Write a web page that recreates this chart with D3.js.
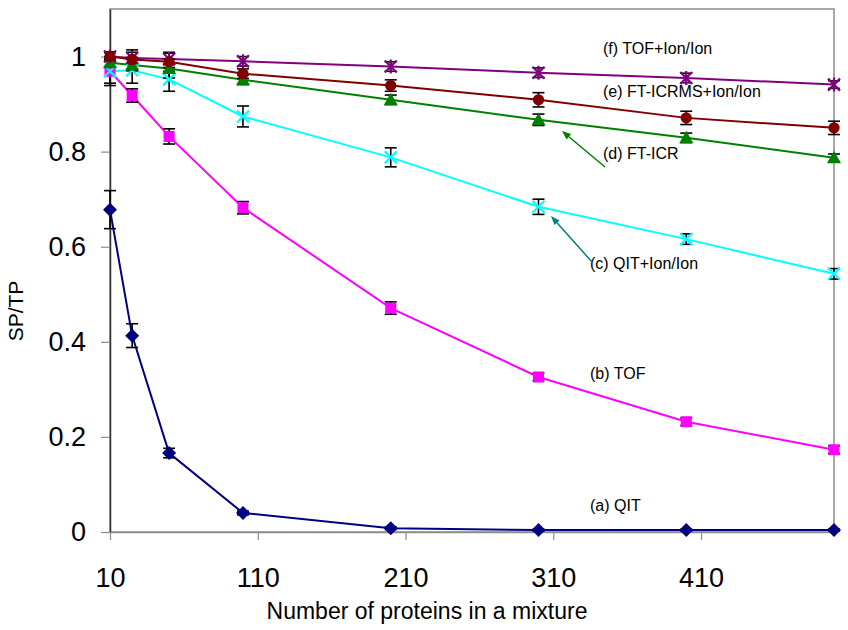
<!DOCTYPE html>
<html>
<head>
<meta charset="utf-8">
<script src="https://cdn.jsdelivr.net/npm/d3@7"></script>
<style>
  body { margin: 0; background: #fff; }
  svg { display: block; font-family: "Liberation Sans", Arial, sans-serif; }
</style>
</head>
<body>
<svg id="chart" width="848" height="630"></svg>
<script>
// number of proteins in the mixture
const proteinCounts = [10, 25, 50, 100, 200, 300, 400, 500];

// SP/TP per instrument
const qit = [0.678, 0.413, 0.166, 0.04, 0.008, 0.004, 0.004, 0.004];
const qitErr = [0.04, 0.025, 0.01, 0.004, 0.003, 0.002, 0.002, 0.002];
const tof = [0.969, 0.918, 0.832, 0.682, 0.471, 0.326, 0.232, 0.173];
const tofErr = [0.03, 0.014, 0.016, 0.013, 0.013, 0.008, 0.008, 0.008];
const qitIon = [0.969, 0.971, 0.952, 0.874, 0.788, 0.684, 0.616, 0.543];
const qitIonErr = [0.025, 0.027, 0.025, 0.022, 0.02, 0.016, 0.011, 0.011];
const ftIcr = [0.987, 0.982, 0.975, 0.951, 0.909, 0.867, 0.829, 0.787];
const ftIcrErr = [0.01, 0.012, 0.02, 0.01, 0.01, 0.012, 0.01, 0.008];
const ftIcrIon = [1.0, 0.994, 0.989, 0.964, 0.939, 0.909, 0.871, 0.85];
const ftIcrIonErr = [0.01, 0.02, 0.02, 0.01, 0.012, 0.015, 0.014, 0.014];
const tofIon = [1.0, 0.997, 0.995, 0.99, 0.979, 0.966, 0.955, 0.941];
const tofIonErr = [0.008, 0.012, 0.012, 0.01, 0.01, 0.01, 0.01, 0.008];

const xTicks = [10, 110, 210, 310, 410];
const yTicks = [0, 0.2, 0.4, 0.6, 0.8, 1];

const series = [
  { name: "(a) QIT", values: qit, err: qitErr, color: "#000080", marker: "diamond" },
  { name: "(b) TOF", values: tof, err: tofErr, color: "#ff00ff", marker: "square" },
  { name: "(c) QIT+Ion/Ion", values: qitIon, err: qitIonErr, color: "#00ffff", marker: "x" },
  { name: "(d) FT-ICR", values: ftIcr, err: ftIcrErr, color: "#008000", marker: "triangle" },
  { name: "(f) TOF+Ion/Ion", values: tofIon, err: tofIonErr, color: "#800080", marker: "star" },
  { name: "(e) FT-ICRMS+Ion/Ion", values: ftIcrIon, err: ftIcrIonErr, color: "#800000", marker: "circle" },
];

const plotLeft = 110, plotRight = 834, plotTop = 9, plotBottom = 532;

const svg = d3.select("#chart");
svg.append("rect").attr("width", 848).attr("height", 630).attr("fill", "#fff");

const x = d3.scaleLinear().domain([10, 500]).range([plotLeft, plotRight]);
const y = d3.scaleLinear().domain([0, 1.1]).range([plotBottom, plotTop]);

// plot frame
svg.append("rect")
  .attr("x", plotLeft).attr("y", plotTop)
  .attr("width", plotRight - plotLeft).attr("height", plotBottom - plotTop)
  .attr("fill", "none").attr("stroke", "#8c8c8c").attr("stroke-width", 1.5);

// axes
const yAxis = svg.append("g")
  .attr("transform", `translate(${plotLeft},0)`)
  .call(d3.axisLeft(y).tickValues(yTicks).tickFormat(d3.format("~g"))
    .tickSize(9).tickSizeOuter(0).tickPadding(15));
yAxis.select(".domain").attr("stroke", "#333").attr("stroke-width", 1.5);
yAxis.selectAll(".tick line").attr("stroke", "#8c8c8c").attr("stroke-width", 1.2);
yAxis.selectAll(".tick text")
  .attr("font-size", 27).attr("fill", "#000")
  .attr("font-family", "Liberation Sans, Arial, sans-serif");

const xAxis = svg.append("g")
  .attr("transform", `translate(0,${plotBottom})`)
  .call(d3.axisBottom(x).tickValues(xTicks).tickSize(8).tickSizeOuter(0));
xAxis.select(".domain").attr("stroke", "#8c8c8c").attr("stroke-width", 1.5);
xAxis.selectAll(".tick line").attr("stroke", "#8c8c8c").attr("stroke-width", 1.2);
xAxis.selectAll(".tick text")
  .attr("y", 55).attr("dy", null)
  .attr("font-size", 27).attr("fill", "#000")
  .attr("font-family", "Liberation Sans, Arial, sans-serif");

// axis titles
svg.append("text")
  .attr("x", 427).attr("y", 619)
  .attr("text-anchor", "middle").attr("font-size", 23)
  .text("Number of proteins in a mixture");
svg.append("text")
  .attr("transform", "translate(23,311) rotate(-90)")
  .attr("text-anchor", "middle").attr("font-size", 21)
  .text("SP/TP");

// lines
const line = d3.line()
  .x((d, i) => x(proteinCounts[i]))
  .y(d => y(d));

svg.append("g").selectAll("path")
  .data(series)
  .join("path")
  .attr("d", s => line(s.values))
  .attr("fill", "none")
  .attr("stroke", s => s.color)
  .attr("stroke-width", 2);

// error bars (behind the markers)
const cap = 6;
series.forEach(s => {
  const g = svg.append("g").attr("stroke", "#000").attr("stroke-width", 1.6);
  s.values.forEach((v, i) => {
    const cx = x(proteinCounts[i]);
    const hi = y(v + s.err[i]), lo = y(v - s.err[i]);
    g.append("line").attr("x1", cx).attr("x2", cx).attr("y1", hi).attr("y2", lo);
    g.append("line").attr("x1", cx - cap).attr("x2", cx + cap).attr("y1", hi).attr("y2", hi);
    g.append("line").attr("x1", cx - cap).attr("x2", cx + cap).attr("y1", lo).attr("y2", lo);
  });
});

function markerPath(kind) {
  if (kind === "diamond") return "M0,-7L7,0L0,7L-7,0Z";
  if (kind === "square") return "M-5.5,-5.5H5.5V5.5H-5.5Z";
  if (kind === "triangle") return "M0,-7L7,5.5L-7,5.5Z";
  if (kind === "circle") return d3.symbol(d3.symbolCircle, 100)();
  if (kind === "x") return "M-6,-6L6,6M-6,6L6,-6";
  return "M-6,-6L6,6M-6,6L6,-6M0,-7V7";
}

// markers
series.forEach(s => {
  const stroked = s.marker === "x" || s.marker === "star";
  svg.append("g").selectAll("path")
    .data(s.values)
    .join("path")
    .attr("transform", (d, i) => `translate(${x(proteinCounts[i])},${y(d)})`)
    .attr("d", markerPath(s.marker))
    .attr("fill", stroked ? "none" : s.color)
    .attr("stroke", stroked ? s.color : "none")
    .attr("stroke-width", stroked ? 2.2 : 0);
});

// series labels
const labelPos = {
  "(f) TOF+Ion/Ion": [603, 54],
  "(e) FT-ICRMS+Ion/Ion": [603, 97],
  "(d) FT-ICR": [603, 159],
  "(c) QIT+Ion/Ion": [590, 269],
  "(b) TOF": [590, 379],
  "(a) QIT": [590, 511],
};
svg.append("g").selectAll("text")
  .data(series)
  .join("text")
  .attr("x", s => labelPos[s.name][0])
  .attr("y", s => labelPos[s.name][1])
  .attr("font-size", 16)
  .text(s => s.name);

// pointer arrows
const arrows = [
  { from: [605, 167], to: [562, 131], color: "#008000" },
  { from: [592, 262], to: [551, 216], color: "#008080" },
];
arrows.forEach(a => {
  const ang = Math.atan2(a.to[1] - a.from[1], a.to[0] - a.from[0]);
  const len = 9, wid = 3.5;
  const bx = a.to[0] - len * Math.cos(ang), by = a.to[1] - len * Math.sin(ang);
  svg.append("line")
    .attr("x1", a.from[0]).attr("y1", a.from[1])
    .attr("x2", bx).attr("y2", by)
    .attr("stroke", a.color).attr("stroke-width", 1.5);
  const px = -Math.sin(ang) * wid, py = Math.cos(ang) * wid;
  svg.append("path")
    .attr("d", `M${a.to[0]},${a.to[1]}L${bx + px},${by + py}L${bx - px},${by - py}Z`)
    .attr("fill", a.color);
});
</script>
</body>
</html>
